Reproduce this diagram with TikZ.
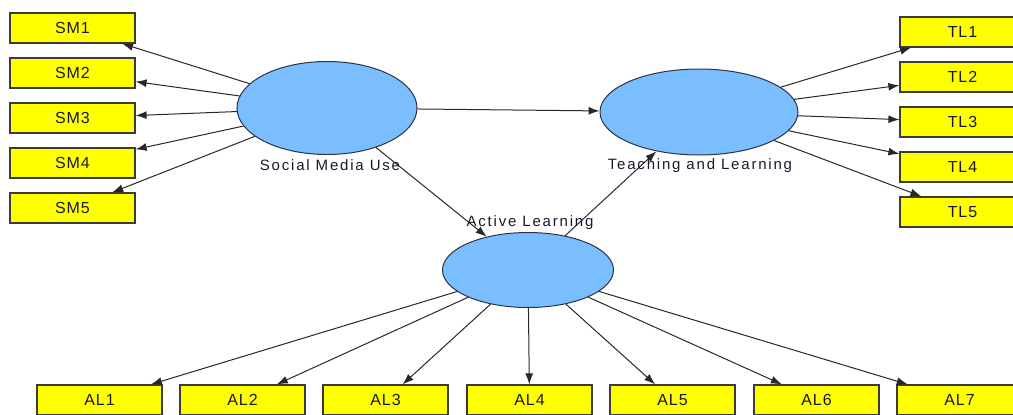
\documentclass[tikz,border=0pt]{standalone}
\usepackage{fontspec}
\setmainfont{Liberation Sans}
\newfontfamily\lblfont[LetterSpace=12]{Liberation Sans}
\newfontfamily\boxfont[LetterSpace=6]{Liberation Sans}
\usetikzlibrary{shapes.geometric,arrows.meta}
\definecolor{boxyellow}{RGB}{255,255,0}
\definecolor{boxborder}{RGB}{60,60,55}
\definecolor{ellblue}{RGB}{122,190,255}
\definecolor{ellborder}{RGB}{45,50,70}
\definecolor{linecol}{RGB}{40,40,40}
\definecolor{txtcol}{RGB}{25,25,45}
\tikzset{
  indbox/.style={draw=boxborder, line width=1.2pt, fill=boxyellow, minimum width=125pt, minimum height=30pt, inner sep=0pt, font=\boxfont\fontsize{16}{18}\selectfont, text=txtcol},
  latent/.style={ellipse, draw=ellborder, line width=1pt, fill=ellblue, inner sep=0pt},
  lvlabel/.style={font=\lblfont\fontsize{15}{18}\selectfont, text=txtcol, inner sep=0pt},
  conn/.style={draw=linecol, line width=1pt, -{Latex[length=11pt,width=8pt]}}
}
\begin{document}
\begin{tikzpicture}[x=1pt,y=-1pt]
\useasboundingbox (0,0) rectangle (1013,415);
\clip (0,0) rectangle (1013,415);
\fill[white] (0,0) rectangle (1013,415);
% latent variables
\node[latent, minimum width=180pt, minimum height=93pt] (sm) at (327,108) {};
\node[latent, minimum width=198pt, minimum height=86pt] (tl) at (699,112) {};
\node[latent, minimum width=171pt, minimum height=75pt] (al) at (528,270) {};
% SM indicators
\node[indbox] (sm1) at (72.5,28) {SM1};
\node[indbox] (sm2) at (72.5,73) {SM2};
\node[indbox] (sm3) at (72.5,118) {SM3};
\node[indbox] (sm4) at (72.5,163) {SM4};
\node[indbox] (sm5) at (72.5,208) {SM5};
% TL indicators
\node[indbox] (tl1) at (962.5,32) {TL1};
\node[indbox] (tl2) at (962.5,77) {TL2};
\node[indbox] (tl3) at (962.5,122) {TL3};
\node[indbox] (tl4) at (962.5,167) {TL4};
\node[indbox] (tl5) at (962.5,212) {TL5};
% AL indicators
\node[indbox] (al1) at (99.5,400) {AL1};
\node[indbox] (al2) at (242.5,400) {AL2};
\node[indbox] (al3) at (385.5,400) {AL3};
\node[indbox] (al4) at (529.5,400) {AL4};
\node[indbox] (al5) at (672.5,400) {AL5};
\node[indbox] (al6) at (816.5,400) {AL6};
\node[indbox] (al7) at (959.5,400) {AL7};
% connectors
\foreach \i in {1,...,5} {
  \draw[conn] (sm) -- (sm\i);
  \draw[conn] (tl) -- (tl\i);
}
\foreach \i in {1,...,7} {
  \draw[conn] (al) -- (al\i);
}
\draw[conn] (sm) -- (tl);
\draw[conn] (sm) -- (al);
\draw[conn] (al) -- (tl);
% labels
\node[lvlabel] (smlabel) at (330,165) {Social Media Use};
\node[lvlabel] (tllabel) at (700,166) {Teaching and Learning};
\node[lvlabel] (allabel) at (530,223) {Active Learning};
\end{tikzpicture}
\end{document}
